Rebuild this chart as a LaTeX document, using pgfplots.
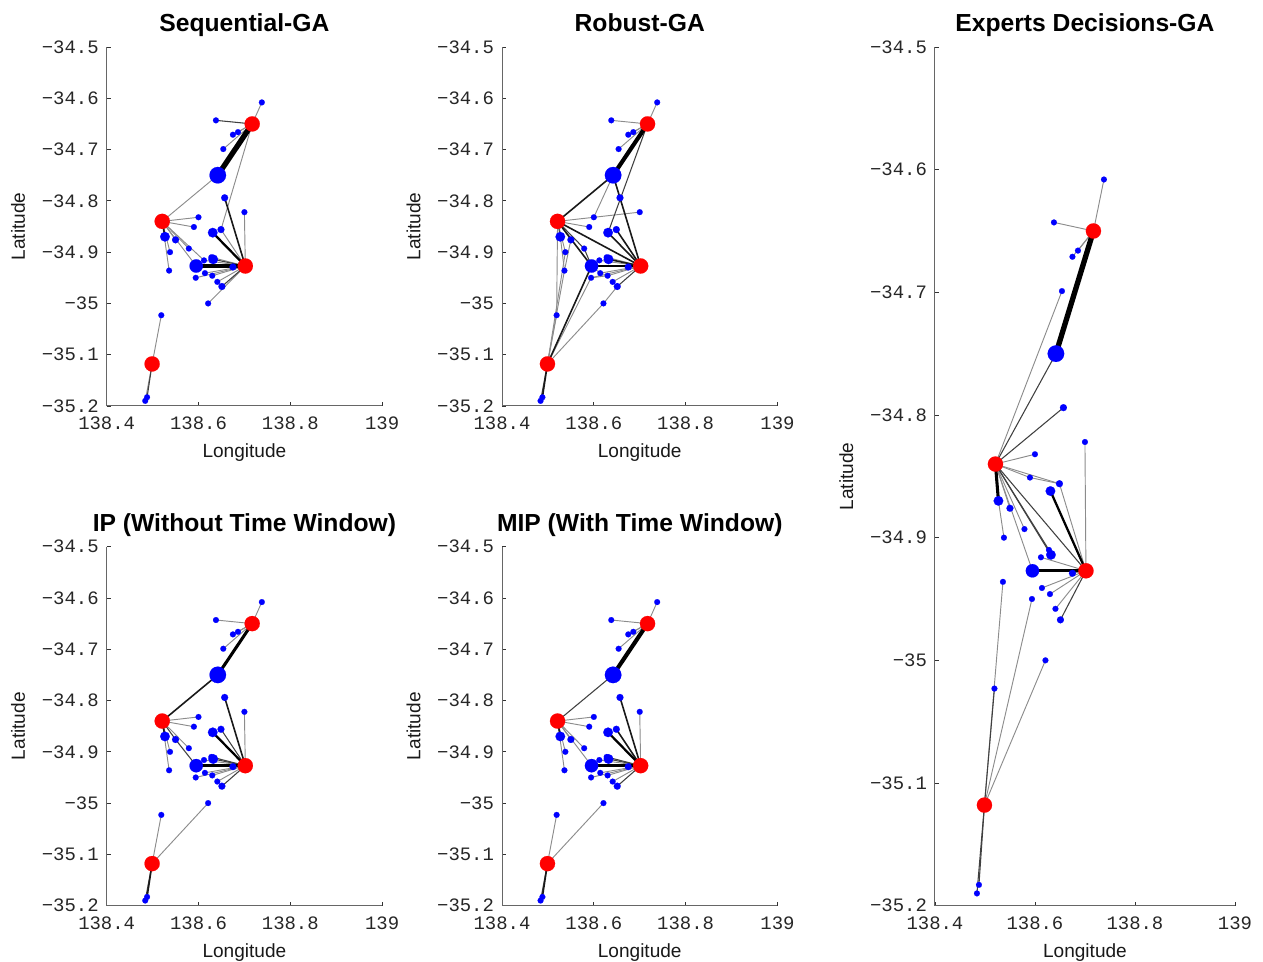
\documentclass[border=0pt]{standalone}
\usepackage{fontspec}
\setmainfont{Liberation Sans}
\newfontfamily\monof{Liberation Mono}
\usepackage{pgfplots}
\pgfplotsset{compat=1.18}
\definecolor{pblue}{rgb}{0,0,1}
\definecolor{pred}{rgb}{1,0,0}
\def\nA{(138.717,-34.65)}\def\nB{(138.521,-34.84)}\def\nC{(138.702,-34.927)}\def\nD{(138.499,-35.118)}
\def\nn{(138.738,-34.608)}\def\nb{(138.638,-34.643)}\def\nc{(138.686,-34.666)}\def\nd{(138.675,-34.671)}
\def\ne{(138.654,-34.699)}\def\nf{(138.642,-34.75)}\def\ng{(138.657,-34.794)}\def\nh{(138.700,-34.822)}
\def\ni{(138.600,-34.832)}\def\nj{(138.590,-34.851)}\def\nk{(138.649,-34.856)}\def\nl{(138.631,-34.862)}
\def\nm{(138.527,-34.87)}\def\no{(138.550,-34.876)}\def\np{(138.579,-34.893)}\def\nq{(138.538,-34.90)}
\def\nr{(138.536,-34.936)}\def\ns{(138.612,-34.916)}\def\nt{(138.628,-34.91)}\def\nu{(138.632,-34.914)}
\def\nv{(138.595,-34.927)}\def\nw{(138.675,-34.929)}\def\nx{(138.614,-34.941)}\def\ny{(138.630,-34.946)}
\def\nz{(138.594,-34.95)}\def\nH{(138.641,-34.958)}\def\nI{(138.651,-34.967)}\def\nJ{(138.621,-35.0)}
\def\nK{(138.519,-35.023)}\def\nL{(138.484,-35.19)}\def\nM{(138.488,-35.183)}
\pgfplotsset{
  g/.style={line width=0.7pt,color=black!45},
  d/.style={line width=0.8pt,color=black!75},
  m/.style={line width=1.2pt,color=black!90},
  t/.style={line width=1.7pt,color=black},
  T/.style={line width=2.3pt,color=black},
  V/.style={line width=3.1pt,color=black},
  W/.style={line width=4pt,color=black},
  bm/.style={only marks,mark=*,color=pblue,mark size=#1,mark options={draw=pblue,fill=pblue,line width=0.1pt},forget plot},
  panel/.style={
    scale only axis,
    xmin=138.4,xmax=139,ymin=-35.2,ymax=-34.5,
    axis lines=left,
    axis line style={-,black!60,line width=0.75pt},
    tick style={black!80,line width=0.6pt},
    tick align=inside,
    major tick length=3pt,
    clip=false,
    xtick={138.4,138.6,138.8,139},
    xticklabels={138.4,138.6,138.8,139},
    ytick={-35.2,-35.1,-35,-34.9,-34.8,-34.7,-34.6,-34.5},
    yticklabels={−35.2,−35.1,−35,−34.9,−34.8,−34.7,−34.6,−34.5},
    tick label style={font=\fontsize{14.2}{14.2}\selectfont\monof,text=black!85},
    xticklabel style={yshift=-4.8pt},
    yticklabel style={xshift=-2.5pt},
    xlabel={Longitude},ylabel={Latitude},
    label style={font=\fontsize{14.3}{14.3}\selectfont,text=black!90},
    xlabel style={at={(axis description cs:0.5,0)},anchor=center,yshift=-35.1pt},
    ylabel style={at={(axis description cs:0,0.5)},anchor=center,yshift=66.4pt},
    title style={font=\fontsize{18.5}{18.5}\selectfont\bfseries,at={(axis description cs:0.5,1)},anchor=base,yshift=5.5pt},
  },
}
\newcommand{\E}[3]{\edef\tmp{\noexpand\addplot[#1,forget plot] coordinates {\csname n#2\endcsname \csname n#3\endcsname};}\tmp}
\def\Eaux#1-#2\relax{\E{\curst}{#1}{#2}}
\newcommand{\Es}[2]{\def\curst{#1}\pgfplotsforeachungrouped \pp in {#2}{\expandafter\Eaux\pp\relax}}
\newcommand{\Nodes}{%
  \addplot[bm=2.2pt] coordinates {
    (138.738,-34.608)(138.638,-34.643)(138.686,-34.666)(138.675,-34.671)(138.654,-34.699)
    (138.700,-34.822)(138.600,-34.832)(138.590,-34.851)(138.579,-34.893)(138.538,-34.90)
    (138.536,-34.936)(138.612,-34.916)(138.628,-34.91)(138.614,-34.941)(138.630,-34.946)
    (138.594,-34.95)(138.641,-34.958)(138.621,-35.0)(138.519,-35.023)(138.484,-35.19)(138.488,-35.183)};
  \addplot[bm=2.6pt] coordinates {
    (138.657,-34.794)(138.649,-34.856)(138.550,-34.876)(138.675,-34.929)(138.651,-34.967)};
  \addplot[bm=3.6pt] coordinates {
    (138.631,-34.862)(138.527,-34.87)(138.632,-34.914)};
  \addplot[bm=5pt] coordinates {(138.595,-34.927)};
  \addplot[bm=6.2pt] coordinates {(138.642,-34.75)};
  \addplot[only marks,mark=*,color=pred,mark size=5.7pt,mark options={draw=pred,fill=pred,line width=0.1pt},forget plot] coordinates {
    (138.717,-34.65)(138.521,-34.84)(138.702,-34.927)(138.499,-35.118)};
}
\pagestyle{empty}
\begin{document}
\begin{tikzpicture}
\path[use as bounding box] (0,0) rectangle (947.25pt,720.75pt);
% Sequential-GA
\begin{axis}[panel,title={Sequential-GA},width=206.6pt,height=269.25pt,at={(80pt,416.25pt)},anchor=south west]
\Nodes
\Es{g}{A-n,A-c,A-d,A-e,A-k,f-B,B-i,B-j,B-o,B-p,B-s,B-q,B-r,B-v,C-h,C-k,C-t,C-w,C-s,C-x,C-y,C-z,C-H,C-J,D-K,D-L}
\Es{d}{A-b,C-I,D-M,C-u}
\Es{m}{C-g,B-m}
\Es{t}{C-l}
\Es{T}{C-v}
\Es{W}{A-f}
\end{axis}
% Robust-GA
\begin{axis}[panel,title={Robust-GA},width=206.6pt,height=269.25pt,at={(376.5pt,416.25pt)},anchor=south west]
\Nodes
\Es{g}{A-n,A-b,A-c,A-d,A-e,f-i,B-h,B-j,B-o,B-K,K-D,B-q,m-r,o-r,q-D,r-D,C-s,C-t,C-w,C-x,C-y,C-z,C-H,I-J,J-D,v-x,z-y,z-D}
\Es{d}{B-p,p-v,D-L,A-l,B-m,C-I}
\Es{m}{f-B,f-C,B-v,B-C,C-k,C-l,v-D,D-M,C-u}
\Es{t}{C-v}
\Es{V}{A-f}
\end{axis}
% IP
\begin{axis}[panel,title={IP (Without Time Window)},width=206.6pt,height=269.25pt,at={(80pt,41.5pt)},anchor=south west]
\Nodes
\Es{g}{A-n,A-b,A-c,A-d,A-e,B-i,B-j,B-p,B-q,B-r,C-h,C-s,C-w,C-x,C-y,C-z,C-H,D-K,D-J}
\Es{d}{C-k,C-t,C-u,C-I,B-o,o-v,D-L}
\Es{m}{C-g,B-m,f-B,D-M}
\Es{t}{C-l}
\Es{T}{C-v}
\Es{T}{A-f}
\end{axis}
% MIP
\begin{axis}[panel,title={MIP (With Time Window)},width=206.6pt,height=269.25pt,at={(376.5pt,41.5pt)},anchor=south west]
\Nodes
\Es{g}{A-n,A-b,A-c,A-d,A-e,B-i,B-j,B-o,B-p,B-v,B-q,B-r,C-h,C-s,C-w,C-x,C-y,C-z,C-H,D-K,D-J}
\Es{d}{C-t,C-u,C-I,f-B,D-L}
\Es{m}{C-g,C-k,B-m,D-M}
\Es{t}{C-l}
\Es{T}{C-v}
\Es{V}{A-f}
\end{axis}
% Experts
\begin{axis}[panel,title={Experts Decisions-GA},width=225pt,height=644pt,at={(701.2pt,41.5pt)},anchor=south west]
\Nodes
\Es{g}{A-n,A-b,A-c,A-d,e-B,B-i,B-j,j-k,B-k,C-k,B-o,B-p,B-v,m-q,C-h,C-s,C-w,C-x,C-y,C-H,r-D,z-D,J-D}
\Es{d}{f-B,g-B,B-u,B-C,B-t,C-I,K-D,D-L,D-M}
\Es{T}{B-m}
\Es{t}{C-l}
\Es{T}{C-v}
\Es{W}{A-f}
\end{axis}
\end{tikzpicture}
\end{document}
